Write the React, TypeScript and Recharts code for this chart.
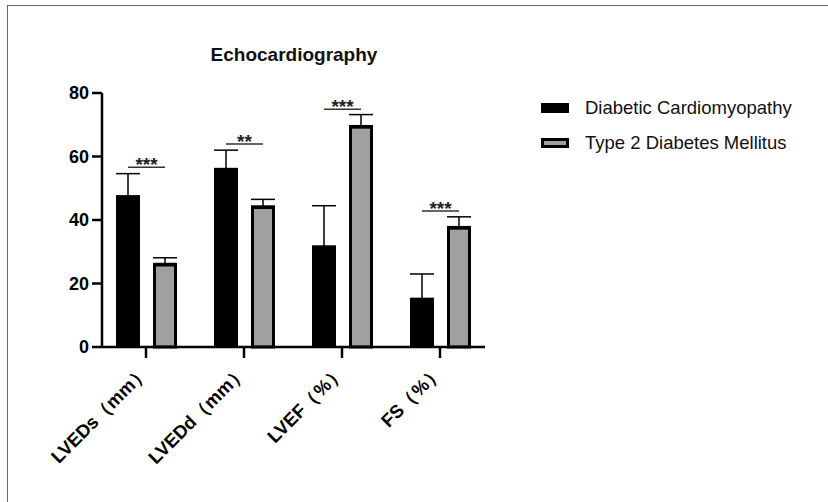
import React from 'react';
import { BarChart, Bar, XAxis, YAxis, ErrorBar, Legend, LabelList } from 'recharts';

// values (mean and upper SD)
const categories = ['LVEDs（mm）', 'LVEDd（mm）', 'LVEF（%）', 'FS（%）'];
const dcmMean = [47.6, 56.2, 31.8, 15.3];
const dcmSd = [7.0, 5.8, 12.7, 7.7];
const t2dmMean = [26.3, 44.4, 69.7, 37.9];
const t2dmSd = [1.8, 2.1, 3.5, 3.1];
const sigLevel = [56.6, 63.9, 74.9, 42.8];
const sigMark = ['***', '**', '***', '***'];
const yTicks = [0, 20, 40, 60, 80];

const data = categories.map((c, i) => ({
  name: c,
  dcm: dcmMean[i],
  dcmErr: [0, dcmSd[i]],
  t2dm: t2dmMean[i],
  t2dmErr: [0, t2dmSd[i]],
}));

const FONT = '"Liberation Sans", Arial, sans-serif';
const BAR_SIZE = 24;
const BAR_GAP = 13;

const GrayBar = (props: any) => {
  const { x, y, width, height } = props;
  if (!height) return null;
  return (
    <rect
      x={x + 1.5}
      y={y + 1.5}
      width={width - 3}
      height={height - 1.5}
      fill="#a0a0a0"
      stroke="#000"
      strokeWidth={3}
    />
  );
};

const SigLabel = (props: any) => {
  const vb = props.viewBox || props;
  const { x, y, width, height } = vb;
  const i = props.index;
  const v = dcmMean[i];
  const base = y + height;
  const ly = base - (sigLevel[i] * height) / v;
  const x1 = x + width / 2;
  const x2 = x1 + width + BAR_GAP;
  return (
    <g>
      <line x1={x1} x2={x2} y1={ly} y2={ly} stroke="#333" strokeWidth={1.5} />
      <text
        x={(x1 + x2) / 2}
        y={ly + 4}
        textAnchor="middle"
        fontFamily={FONT}
        fontWeight="bold"
        fontSize={19}
        fill="#222"
      >
        {sigMark[i]}
      </text>
    </g>
  );
};

const XTick = (props: any) => {
  const { x, y, payload } = props;
  const tx = x + 4;
  const ty = y + 13;
  return (
    <text
      x={tx}
      y={ty}
      transform={`rotate(-45 ${tx} ${ty})`}
      textAnchor="end"
      fontFamily={FONT}
      fontWeight="bold"
      fontSize={18.5}
      fill="#000"
    >
      {payload.value}
    </text>
  );
};

const LegendBox = (props: any) => {
  const { payload } = props;
  return (
    <div style={{ fontFamily: FONT, fontSize: 18.5, color: '#111' }}>
      {(payload || []).map((p: any, i: number) => (
        <div key={i} style={{ display: 'flex', alignItems: 'center', height: 35 }}>
          {p.dataKey === 'dcm' ? (
            <div style={{ width: 28, height: 10, background: '#000' }} />
          ) : (
            <div style={{ width: 22, height: 4, background: '#a0a0a0', border: '3px solid #000' }} />
          )}
          <span style={{ marginLeft: 16 }}>{p.value}</span>
        </div>
      ))}
    </div>
  );
};

export default function App() {
  return (
    <div style={{ position: 'absolute', left: 0, top: 0, width: 828, height: 502, background: '#fff' }}>
      <div
        style={{
          position: 'absolute',
          left: 7,
          top: 5,
          width: 821,
          height: 497,
          borderTop: '1.5px solid #666',
          borderLeft: '1.5px solid #666',
        }}
      />
      <div
        style={{
          position: 'absolute',
          left: 194,
          top: 44,
          width: 200,
          textAlign: 'center',
          fontFamily: FONT,
          fontWeight: 'bold',
          fontSize: 19,
          color: '#111',
        }}
      >
        Echocardiography
      </div>
      <BarChart
        width={828}
        height={502}
        data={data}
        margin={{ top: 93, right: 343, bottom: 35, left: 62 }}
        barSize={BAR_SIZE}
        barGap={BAR_GAP}
      >
        <XAxis
          dataKey="name"
          padding={{ left: -5, right: -4 }}
          axisLine={{ stroke: '#000', strokeWidth: 2.5 }}
          tickLine={{ stroke: '#000', strokeWidth: 2.5 }}
          tickSize={11}
          tick={<XTick />}
          height={120}
          interval={0}
        />
        <YAxis
          domain={[0, 80]}
          ticks={yTicks}
          width={40}
          axisLine={{ stroke: '#000', strokeWidth: 2.5 }}
          tickLine={{ stroke: '#000', strokeWidth: 2.5 }}
          tickSize={10}
          tickMargin={3}
          tick={{ fill: '#000', fontFamily: FONT, fontWeight: 'bold', fontSize: 18 }}
        />
        <Legend
          layout="vertical"
          verticalAlign="middle"
          align="center"
          content={<LegendBox />}
          wrapperStyle={{ left: 541, top: 90, width: 280 }}
        />
        <Bar dataKey="dcm" name="Diabetic Cardiomyopathy" fill="#000" isAnimationActive={false}>
          <ErrorBar dataKey="dcmErr" width={12} stroke="#000" strokeWidth={1.5} direction="y" />
          <LabelList dataKey="dcm" content={<SigLabel />} />
        </Bar>
        <Bar
          dataKey="t2dm"
          name="Type 2 Diabetes Mellitus"
          fill="#a0a0a0"
          shape={<GrayBar />}
          isAnimationActive={false}
        >
          <ErrorBar dataKey="t2dmErr" width={12} stroke="#000" strokeWidth={1.5} direction="y" />
        </Bar>
      </BarChart>
    </div>
  );
}
